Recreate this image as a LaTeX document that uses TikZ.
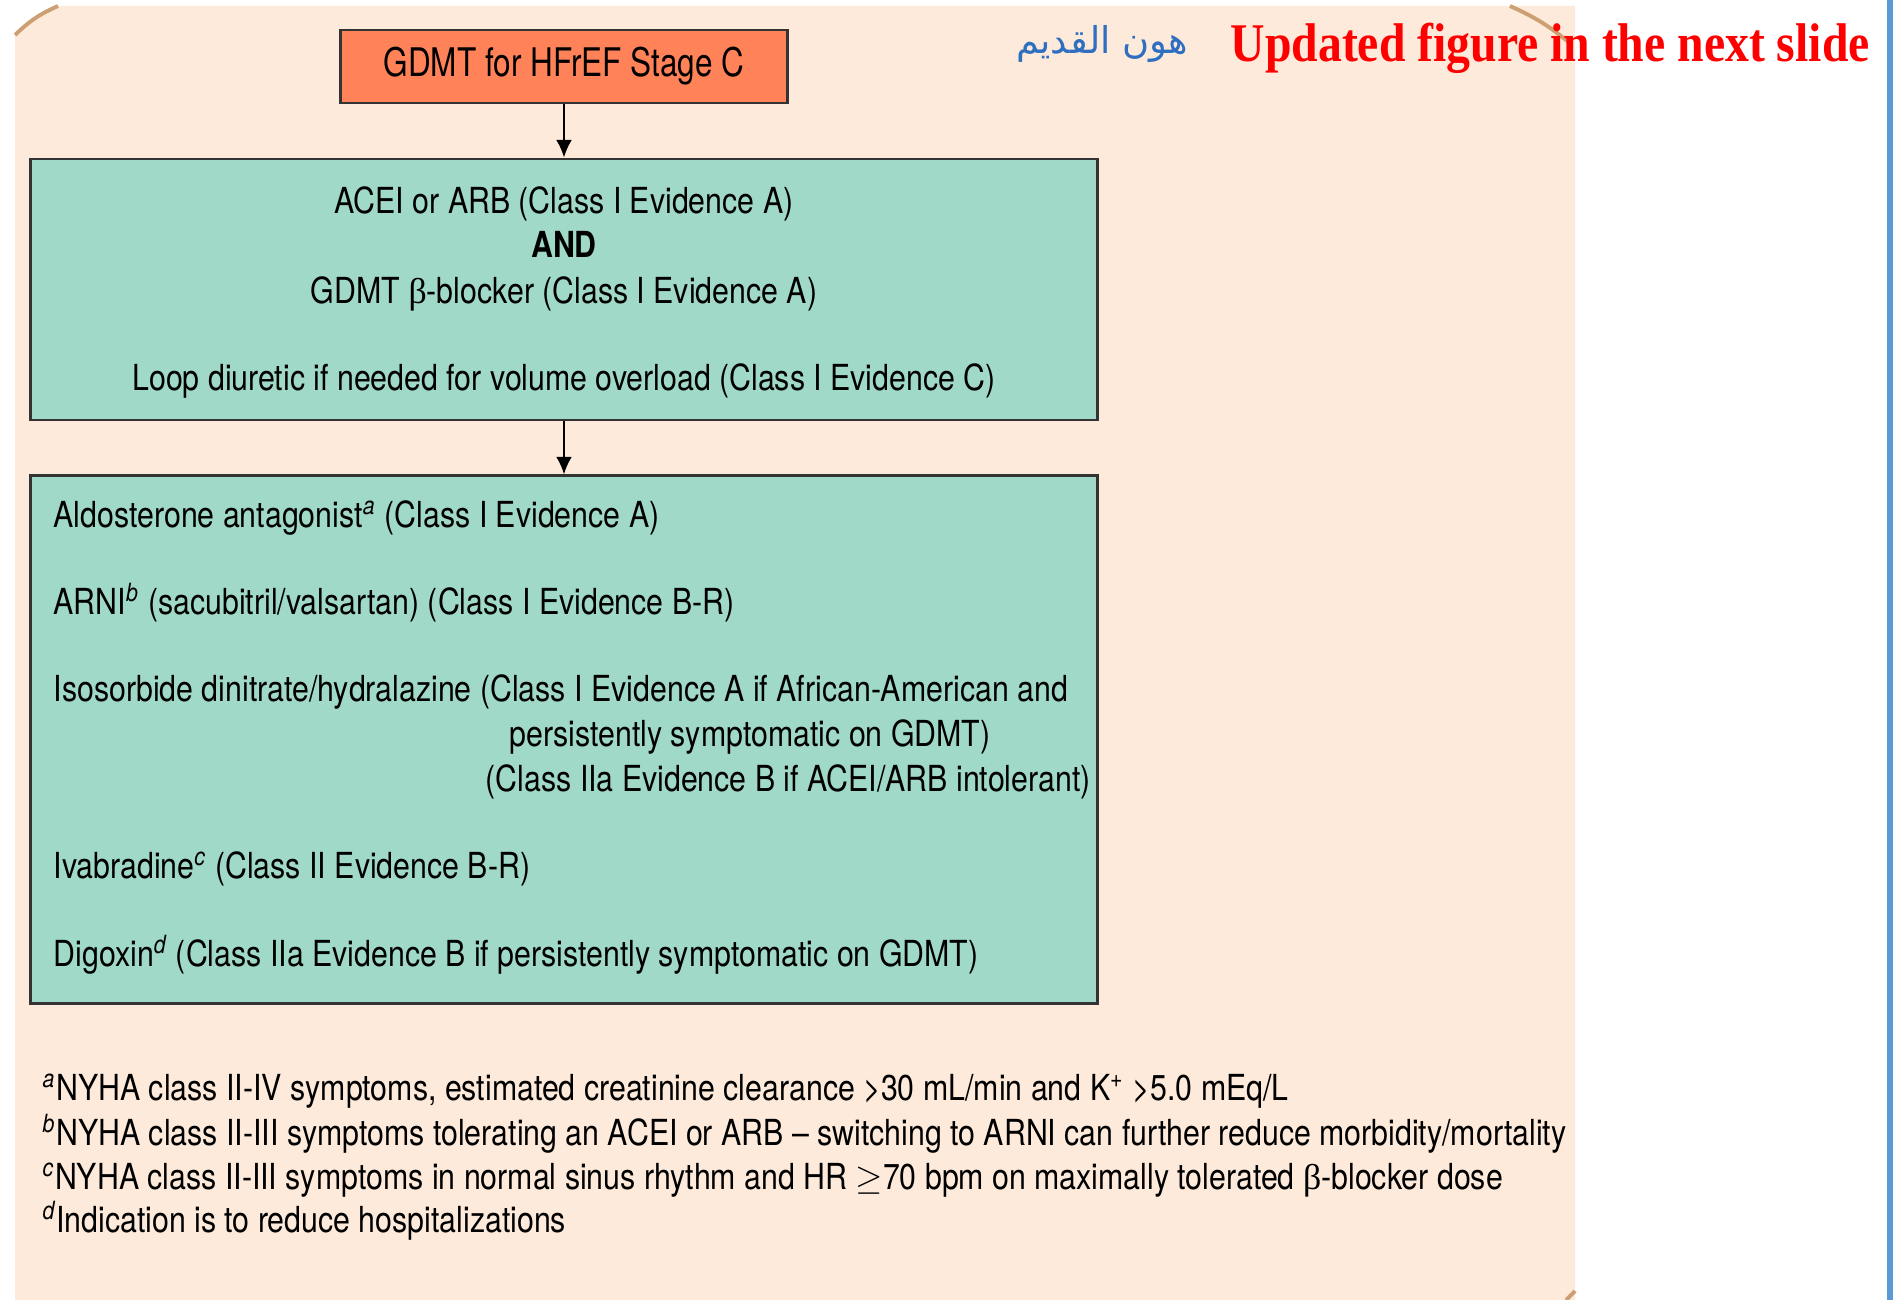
\documentclass[tikz,border=0pt]{standalone}
\usepackage{fontspec}
\usepackage{xcolor}
\setmainfont[FakeStretch=0.845]{TeX Gyre Heros}
\newfontfamily\slidefont[FakeStretch=0.875]{Liberation Serif}
\newfontfamily\symfont{Liberation Serif}
\newfontfamily\arabicfont[Script=Arabic]{DejaVu Sans}
\newcommand{\bet}{{\symfont β}}
\TeXXeTstate=1
\usetikzlibrary{arrows.meta}

\definecolor{peach}{RGB}{253,234,218}
\definecolor{coral}{RGB}{255,130,89}
\definecolor{mint}{RGB}{160,217,199}
\definecolor{rim}{RGB}{205,160,115}
\definecolor{slideblue}{RGB}{91,155,213}
\definecolor{inkblue}{RGB}{46,111,192}

\begin{document}
\begin{tikzpicture}[x=0.01cm,y=-0.01cm,
    stagebox/.style={draw=black!80, line width=0.8pt, fill=coral, minimum width=4.46cm, minimum height=0.73cm, inner sep=0pt, font=\addfontfeatures{FakeStretch=0.8}\fontsize{11.2}{13}\selectfont},
    drugbox/.style={draw=black!80, line width=0.8pt, fill=mint, minimum width=10.66cm, inner sep=0pt},
    drug/.style={anchor=base west, inner sep=0pt, font=\fontsize{10.2}{12}\selectfont},
    mid/.style={anchor=base, inner sep=0pt, font=\fontsize{10.2}{12}\selectfont},
    flow/.style={-{Latex[length=5pt,width=4.5pt]}, line width=0.6pt}]
            \useasboundingbox (0,0) rectangle (1900,1300);
            % backdrop of the slide
            \fill[peach] (15,35) to[bend left=10] (58,6) -- (1575,6) -- (1575,1300) -- (15,1300) -- cycle;
            \draw[rim, line width=1.1pt] (15,35) to[bend left=10] (58,6);
            \draw[rim, line width=1.1pt] (1510,6) to[bend left=8] (1572,45);
            \draw[rim, line width=1.1pt] (1566,1300) -- (1575,1291);
            \fill[slideblue] (1887,0) rectangle (1893,1300);

            % boxes
            \node[stagebox] (stage) at (564,66.5) {GDMT for HFrEF Stage C};
            \node[drugbox, minimum height=2.61cm] (first) at (564,289.5) {};
            \node[drugbox, minimum height=5.27cm] (second) at (564,739.5) {};
            \draw[flow] (stage) -- (first);
            \draw[flow] (first) -- (second);

            \node[mid] (acei) at (564,213) {ACEI or ARB (Class I Evidence A)};
            \node[mid] (and) at (564,258) {\bfseries AND};
            \node[mid] (beta) at (564,303) {GDMT \bet-blocker (Class I Evidence A)};
            \node[mid] (loop) at (564,390) {Loop diuretic if needed for volume overload (Class I Evidence C)};

            \node[drug] (aldo) at (53,527) {Aldosterone antagonist\textsuperscript{\itshape a} (Class I Evidence A)};
            \node[drug] (arni) at (53,614) {ARNI\textsuperscript{\itshape b} (sacubitril/valsartan) (Class I Evidence B-R)};
            \node[drug] (isdn) at (53,701) {Isosorbide dinitrate/hydralazine (Class I Evidence A if African-American and};
            \node[drug] (isdn2) at (509,746) {persistently symptomatic on GDMT)};
            \node[drug] (isdn3) at (485,791) {(Class IIa Evidence B if ACEI/ARB intolerant)};
            \node[drug] (ivab) at (53,878) {Ivabradine\textsuperscript{\itshape c} (Class II Evidence B-R)};
            \node[drug] (digo) at (53,966) {Digoxin\textsuperscript{\itshape d} (Class IIa Evidence B if persistently symptomatic on GDMT)};

            % footnotes
            \node[drug] (fna) at (42,1100) {\textsuperscript{\itshape a}NYHA class II-IV symptoms, estimated creatinine clearance >30 mL/min and K\textsuperscript{+} >5.0 mEq/L};
            \node[drug] (fnb) at (42,1145) {\textsuperscript{\itshape b}NYHA class II-III symptoms tolerating an ACEI or ARB -- switching to ARNI can further reduce morbidity/mortality};
            \node[drug] (fnc) at (42,1189) {\textsuperscript{\itshape c}NYHA class II-III symptoms in normal sinus rhythm and HR $\geq$70 bpm on maximally tolerated \bet-blocker dose};
            \node[drug] (fnd) at (42,1232) {\textsuperscript{\itshape d}Indication is to reduce hospitalizations};

            % slide remarks
            \node[anchor=base west, inner sep=0pt, text=red, font=\slidefont\bfseries\fontsize{15.5}{18}\selectfont] (update) at (1230,62) {Updated figure in the next slide};
            \node[inner sep=0pt, text=inkblue, font=\arabicfont\fontsize{10.5}{12}\selectfont] (hand) at (1102,44) {\beginR هون القديم\endR};
        \end{tikzpicture}
\end{document}
